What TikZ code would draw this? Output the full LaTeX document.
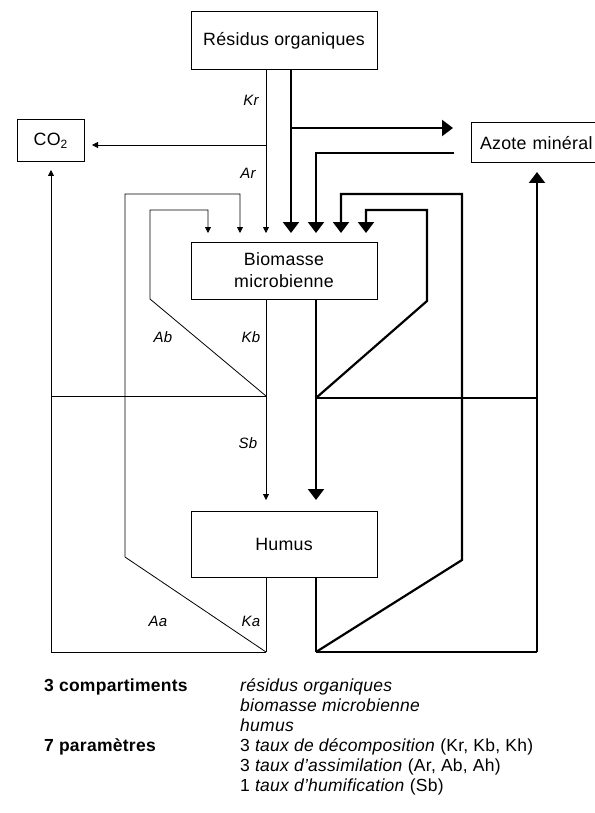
\documentclass[tikz,border=0pt]{standalone}
\usepackage{fontspec}
\setmainfont[LetterSpace=1.5]{Liberation Sans}
\usetikzlibrary{arrows.meta}
\tikzset{
  box/.style={draw, line width=1pt, inner sep=0pt, font=\fontsize{17.8}{22}\selectfont, align=center},
  thinln/.style={line width=0.8pt},
  thickln/.style={line width=2.2pt},
  thinar/.style={thinln, -{Triangle[width=6pt,length=6pt]}},
  thickar/.style={thickln, -{Triangle[width=16pt,length=11pt]}},
  rate/.style={font=\fontsize{15}{17}\selectfont\itshape, inner sep=0pt},
  legend/.style={font=\fontsize{17.5}{19.3}\selectfont, inner sep=0pt, anchor=base west},
}
\begin{document}
\begin{tikzpicture}[x=1pt,y=-1pt]
\useasboundingbox (0,0) rectangle (594,813);
% boxes
\node[box, minimum width=186pt, minimum height=58pt] (res) at (284,41) {Résidus organiques};
\node[box, minimum width=67pt, minimum height=42pt] (co2) at (50.5,141) {CO\raisebox{-0.35ex}{\fontsize{12}{12}\selectfont 2}};
\node[box, minimum width=128pt, minimum height=40pt, text width=128pt, align=left] (azo) at (535,143) {\hspace{9pt}Azote minéral};
\node[box, minimum width=186pt, minimum height=57pt] (bio) at (284,270.5) {Biomasse\\microbienne};
\node[box, minimum width=186pt, minimum height=66pt] (hum) at (284,544) {Humus};
% coordinates
\coordinate (tA) at (208,233);
\coordinate (tB) at (240,233);
\coordinate (tKr) at (266,233);
\coordinate (tR) at (291,233);
\coordinate (tN) at (316,233);
\coordinate (tC) at (341,233);
\coordinate (tD) at (366,233);
\coordinate (jCO) at (266,145);
\coordinate (tCO) at (92,145);
\coordinate (jRN) at (291,128);
\coordinate (tRN) at (453,128);
\coordinate (sAz) at (454,153);
\coordinate (mL) at (266,396);
\coordinate (mR) at (316,398);
\coordinate (bL) at (266,652);
\coordinate (bR) at (316,652);
\coordinate (cL) at (51,652);
\coordinate (cR) at (537,652);
\coordinate (hL) at (51,396);
\coordinate (hR) at (537,398);
\coordinate (tHs) at (266,500);
\coordinate (tHt) at (316,500);
\coordinate (tUpC) at (51,170);
\coordinate (tUpA) at (537,172);
% from residues
\draw[thinar] (res.south -| tKr) -- (tKr);
\draw[thinar] (jCO) -- (tCO);
\draw[thickar] (res.south -| tR) -- (tR);
\draw[thickar] (jRN) -- (tRN);
\draw[thickar] (sAz) -- (sAz -| tN) -- (tN);
% loops left (thin)
\draw[thinar] (mL) -- (150,299) -- (150,210) -- (208,210) -- (tA);
\draw[thinar] (bL) -- (125,557) -- (125,194) -- (240,194) -- (tB);
% loops right (thick)
\draw[thickar, line join=miter] (mR) -- (427,301) -- (427,210) -- (366,210) -- (tD);
\draw[thickar, line join=miter] (bR) -- (462,560) -- (462,194) -- (341,194) -- (tC);
% from biomass
\draw[thinar] (bio.south -| tHs) -- (tHs);
\draw[thickar] (bio.south -| tHt) -- (tHt);
% from humus
\draw[thinln] (hum.south -| bL) -- (bL);
\draw[thickln] (hum.south -| bR) -- (bR);
% horizontal collectors
\draw[thinln] (hL) -- (mL);
\draw[thickln] (mR) -- (hR);
\draw[thinln] (bL) -- (cL);
\draw[thickln] (bR) -- (cR);
% up to CO2 and mineral N
\draw[thinar] (cL) -- (tUpC);
\draw[thickar] (cR) -- (tUpA);
% rate labels
\node[rate] (lKr) at (251,100) {Kr};
\node[rate] (lAr) at (248,173) {Ar};
\node[rate] (lAb) at (163,337) {Ab};
\node[rate] (lKb) at (251,337) {Kb};
\node[rate] (lSb) at (248,443) {Sb};
\node[rate] (lAa) at (158,621) {Aa};
\node[rate] (lKa) at (251,621) {Ka};
% legend
\node[legend] (c3) at (44,691) {\bfseries 3 compartiments};
\node[legend] (c3a) at (240,691) {\itshape résidus organiques};
\node[legend] (c3b) at (240,711) {\itshape biomasse microbienne};
\node[legend] (c3c) at (240,731) {\itshape humus};
\node[legend] (p7) at (44,751) {\bfseries 7 paramètres};
\node[legend] (p7a) at (240,751) {3 \textit{taux de décomposition} (Kr, Kb, Kh)};
\node[legend] (p7b) at (240,771) {3 \textit{taux d'assimilation} (Ar, Ab, Ah)};
\node[legend] (p7c) at (240,791) {1 \textit{taux d'humification} (Sb)};
\end{tikzpicture}
\end{document}
